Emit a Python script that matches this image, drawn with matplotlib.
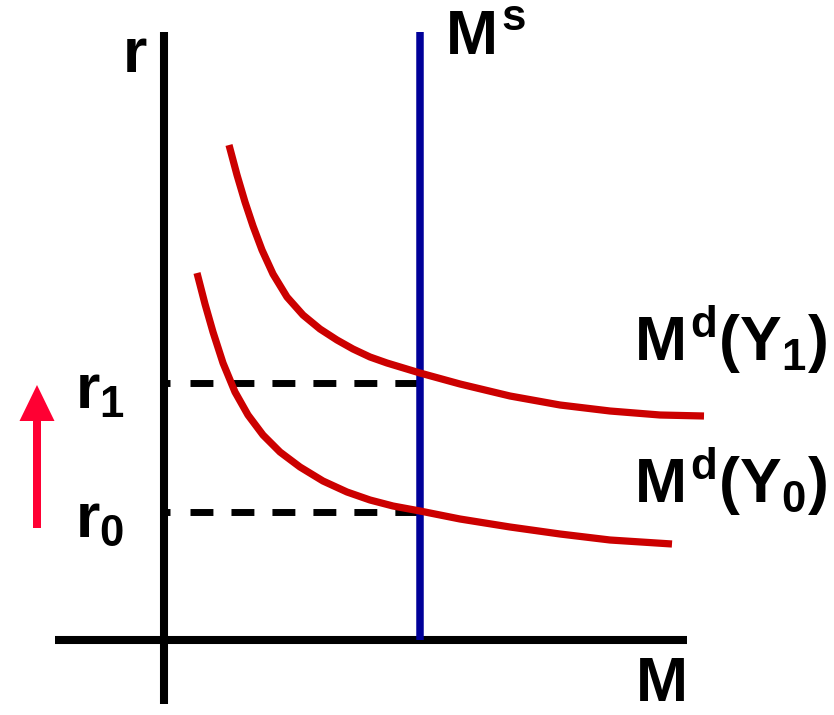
"""
Money market diagram: a rise in income shifts money demand up and
raises the interest rate from r0 to r1 at a fixed money supply.
"""

import matplotlib
matplotlib.use('Agg')
import matplotlib.pyplot as plt

# Money demand at income Y1 (upper curve): money M, interest rate r
md_y1_m = [65, 73, 81, 89, 98, 109, 123, 139, 156, 173, 189, 206, 223,
           256, 296, 346, 396, 446, 496, 540]
md_y1_r = [495, 465, 438, 414, 390, 366, 343, 325, 311, 300, 291, 283, 277,
           267, 256, 244, 235, 229, 225, 224]

# Money demand at income Y0 (lower curve)
md_y0_m = [33, 41, 49, 59, 71, 84, 99, 116, 136, 159, 183, 206, 229,
           256, 296, 346, 396, 446, 508]
md_y0_r = [367, 336, 308, 277, 248, 225, 205, 188, 173, 159, 148, 140, 134,
           129, 121, 113, 106, 100, 96]

money_supply = 256
rates = {'r1': 257, 'r0': 128}

RED = '#CC0000'
BLUE = '#000099'
ARROW = '#FF0033'

plt.rcParams['mathtext.fontset'] = 'custom'
plt.rcParams['mathtext.rm'] = 'Liberation Sans:bold'
plt.rcParams['mathtext.it'] = 'Liberation Sans:bold'
plt.rcParams['mathtext.bf'] = 'Liberation Sans:bold'

fig = plt.figure(figsize=(8.34, 7.15), dpi=100)
ax = fig.add_axes([0, 0, 1, 1])
ax.set_xlim(-164, 670)
ax.set_ylim(-75, 640)
ax.axis('off')

# Axes of the diagram
ax.plot([0, 0], [-64, 608], color='black', lw=5.8, solid_capstyle='butt')
ax.plot([-109, 523], [0, 0], color='black', lw=5.8, solid_capstyle='butt')

# Dashed guides and small ticks at r0 / r1
for r in rates.values():
    ax.plot([26, money_supply], [r, r], color='black', lw=5,
            dashes=(3.3, 2.6), dash_capstyle='butt')
    ax.plot([0, 6], [r, r], color='black', lw=5, solid_capstyle='butt')

# Money supply
ax.plot([money_supply, money_supply], [0, 608], color=BLUE, lw=5.4,
        solid_capstyle='butt')

# Money demand curves
ax.plot(md_y1_m, md_y1_r, color=RED, lw=5.2, solid_capstyle='butt',
        solid_joinstyle='round')
ax.plot(md_y0_m, md_y0_r, color=RED, lw=5.2, solid_capstyle='butt',
        solid_joinstyle='round')

# Arrow showing the rate increase
ax.arrow(-127, rates['r0'] - 16, 0, 143, width=8, head_width=35,
         head_length=36, length_includes_head=True, color=ARROW, lw=0)

# Labels
txt = dict(fontsize=45, ha='left', va='baseline', family='Liberation Sans',
           fontweight='bold')
ax.text(-41, 568, 'r', **txt)
ax.text(281, 585, r'$M^{s}$', **txt)
ax.text(472, -61, 'M', **txt)
ax.text(470, 279, r'$M^{d}(Y_{1})$', **txt)
ax.text(470, 137, r'$M^{d}(Y_{0})$', **txt)
ax.text(-89, 232, r'$r_{1}$', **txt)
ax.text(-89, 103, r'$r_{0}$', **txt)

fig.savefig('out.png', dpi=100)
